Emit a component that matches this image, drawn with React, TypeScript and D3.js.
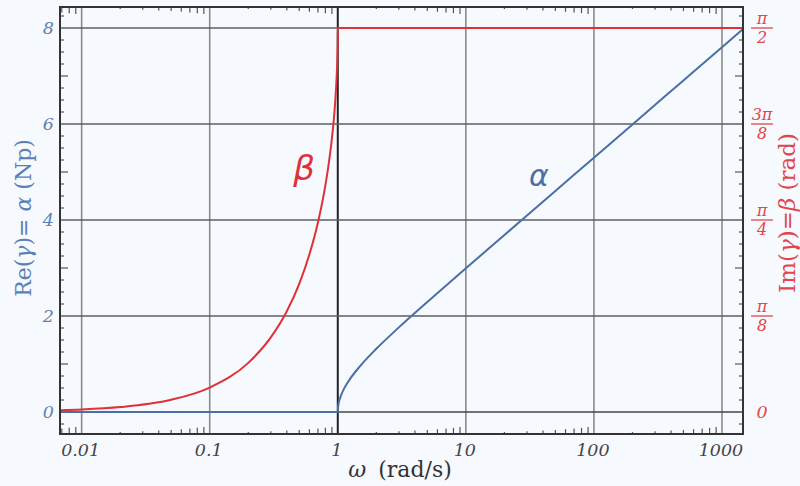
import React from "react";
import * as d3 from "d3";

// Data
const omegaBeta = [0.0068, 0.01, 0.02, 0.05, 0.1, 0.2, 0.3, 0.4, 0.5, 0.6, 0.7, 0.8, 0.85, 0.9, 0.95, 0.98, 0.99, 0.995, 0.998, 1, 1459];
const betaValues = [0.0068, 0.01, 0.02, 0.05, 0.1, 0.201, 0.305, 0.412, 0.524, 0.644, 0.775, 0.927, 1.016, 1.12, 1.253, 1.371, 1.429, 1.471, 1.508, 1.571, 1.571];
const omegaAlpha = [0.0068, 1, 1.002, 1.01, 1.05, 1.1, 1.2, 1.5, 2, 3, 5, 10, 20, 50, 100, 200, 500, 1000, 1459];
const alphaValues = [0, 0, 0.063, 0.141, 0.315, 0.444, 0.622, 0.962, 1.317, 1.763, 2.292, 2.993, 3.688, 4.605, 5.298, 5.992, 6.908, 7.601, 7.979];

const xTicks = [0.01, 0.1, 1, 10, 100, 1000];
const xTickLabels = ["0.01", "0.1", "1", "10", "100", "1000"];
const yTicks = [0, 2, 4, 6, 8];
const betaTicks = [0, Math.PI / 8, Math.PI / 4, (3 * Math.PI) / 8, Math.PI / 2];
const betaNumerators = ["", "π", "π", "3π", "π"];
const betaDenominators = ["", "8", "4", "8", "2"];

const W = 800, H = 486;
const L = 60, R = 743, T = 7, B = 434;

const BLUE = "#4a6fa8";
const BLUE_T = "#5b80b8";
const RED = "#e03038";
const RED_T = "#e0464c";

export default function App() {
  const x = d3.scaleLog().domain([Math.pow(10, -2.169), Math.pow(10, 3.164)]).range([L, R]);
  const y = d3.scaleLinear().domain([-22 / 48, 8 + 21 / 48]).range([B, T]);
  const yb = d3.scaleLinear().domain([(-22 / 48) * Math.PI / 16, (8 + 21 / 48) * Math.PI / 16]).range([B, T]);

  const betaLine = d3.line<number>().x((_, i) => x(omegaBeta[i])).y((d) => yb(d)).curve(d3.curveMonotoneX);
  const alphaLine = d3.line<number>().x((_, i) => x(omegaAlpha[i])).y((d) => y(d)).curve(d3.curveMonotoneX);

  const minorX: { v: number; k: number }[] = [];
  for (let e = -3; e <= 3; e++) {
    for (let k = 2; k <= 9; k++) {
      const v = k * Math.pow(10, e);
      if (v > x.domain()[0] && v < x.domain()[1]) minorX.push({ v, k });
    }
  }
  const minorY: { v: number; major: boolean }[] = [];
  for (let v = -0.25; v <= 8.25; v += 0.25) {
    if (Math.abs(v % 2) < 1e-9) continue;
    minorY.push({ v, major: Math.abs(v % 1) < 1e-9 });
  }

  const tickFont = "'DejaVu Serif', serif";

  return (
    <svg width={W} height={H} style={{ position: "absolute", left: 0, top: 0, background: "#f6f9fd" }}>
      <rect x={0} y={0} width={W} height={H} fill="#f6f9fd" />
      {/* grid */}
      {xTicks.map((t) => (
        <line key={"gx" + t} x1={x(t)} x2={x(t)} y1={T} y2={B} stroke={t === 1 ? "#222" : "#8a8a8a"} strokeWidth={t === 1 ? 2 : 1.6} />
      ))}
      {yTicks.map((t) => (
        <line key={"gy" + t} x1={L} x2={R} y1={y(t)} y2={y(t)} stroke={t === 0 ? "#444" : "#5e5e5e"} strokeWidth={1.6} />
      ))}
      {/* minor ticks */}
      {minorX.map(({ v, k }) => {
        const len = 2 + (k - 2) * 0.7;
        return (
          <g key={"mx" + v}>
            <line x1={x(v)} x2={x(v)} y1={B} y2={B - len} stroke="#555" strokeWidth={1.2} />
            <line x1={x(v)} x2={x(v)} y1={T} y2={T + len} stroke="#555" strokeWidth={1.2} />
          </g>
        );
      })}
      {minorY.map(({ v, major }) => {
        const len = major ? 8 : 4;
        return (
          <g key={"my" + v}>
            <line x1={L} x2={L + len} y1={y(v)} y2={y(v)} stroke="#555" strokeWidth={1.2} />
            <line x1={R} x2={R - len} y1={y(v)} y2={y(v)} stroke="#555" strokeWidth={1.2} />
          </g>
        );
      })}
      {/* curves */}
      <path d={betaLine(betaValues) || ""} fill="none" stroke={RED} strokeWidth={2} />
      <path d={alphaLine(alphaValues) || ""} fill="none" stroke={BLUE} strokeWidth={2} />
      {/* frame */}
      <rect x={L} y={T} width={R - L} height={B - T} fill="none" stroke="#333" strokeWidth={2} />
      {/* x tick labels */}
      {xTicks.map((t, i) => (
        <text key={"xl" + t} x={x(t) - 1} y={456} textAnchor="middle" fontFamily={tickFont} fontStyle="italic" fontSize={17.5} fill="#444">
          {xTickLabels[i]}
        </text>
      ))}
      {/* left tick labels */}
      {yTicks.map((t) => (
        <text key={"yl" + t} x={54} y={y(t) + 6} textAnchor="end" fontFamily={tickFont} fontStyle="italic" fontSize={17.5} fill={BLUE_T}>
          {t}
        </text>
      ))}
      {/* right tick labels */}
      {betaTicks.map((t, i) =>
        i === 0 ? (
          <text key={"bl" + i} x={762} y={yb(t) + 6} textAnchor="middle" fontFamily={tickFont} fontStyle="italic" fontSize={17.5} fill={RED_T}>
            0
          </text>
        ) : (
          <g key={"bl" + i}>
            <text x={762} y={yb(t) - 4} textAnchor="middle" fontFamily={tickFont} fontStyle="italic" fontSize={16} fill={RED_T}>
              {betaNumerators[i]}
            </text>
            <line x1={751} x2={773} y1={yb(t)} y2={yb(t)} stroke={RED_T} strokeWidth={1.3} />
            <text x={762} y={yb(t) + 15} textAnchor="middle" fontFamily={tickFont} fontStyle="italic" fontSize={16} fill={RED_T}>
              {betaDenominators[i]}
            </text>
          </g>
        )
      )}
      {/* axis titles */}
      <text transform={`translate(31,${218}) rotate(-90)`} textAnchor="middle" fontFamily="'DejaVu Serif', serif" fontSize={22} fill={BLUE_T}>
        Re(<tspan fontStyle="italic">γ</tspan>)= <tspan fontStyle="italic">α</tspan> (Np)
      </text>
      <text transform={`translate(795,${213}) rotate(-90)`} textAnchor="middle" fontFamily="'DejaVu Serif', serif" fontSize={23} fill={RED_T}>
        Im(<tspan fontStyle="italic">γ</tspan>)=<tspan fontStyle="italic">β</tspan> (rad)
      </text>
      <text x={400} y={477} textAnchor="middle" fontFamily="'DejaVu Serif', serif" fontSize={22} fill="#333">
        <tspan fontStyle="italic">ω</tspan>
        <tspan dx={12}>(rad/s)</tspan>
      </text>
      {/* curve labels */}
      <text x={304} y={180} textAnchor="middle" fontFamily="'DejaVu Sans', sans-serif" fontStyle="italic" fontSize={34} fill={RED}>
        β
      </text>
      <text x={539} y={186} textAnchor="middle" fontFamily="'DejaVu Sans', sans-serif" fontStyle="italic" fontSize={30} fill={BLUE}>
        α
      </text>
    </svg>
  );
}
